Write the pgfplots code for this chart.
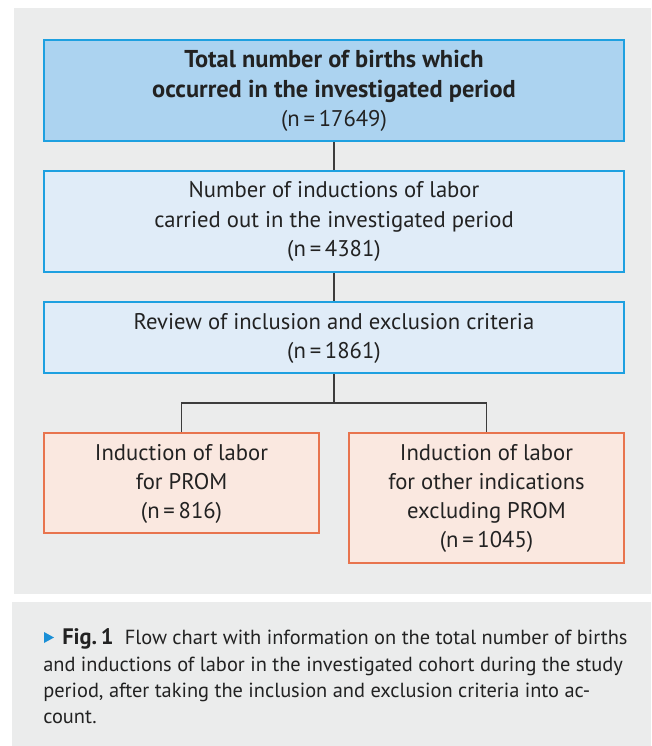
\documentclass[border=0pt]{standalone}
\usepackage{fontspec}
\setmainfont{PT Sans}
\usepackage{pgfplots}
\pgfplotsset{compat=1.18}
\definecolor{panel}{HTML}{EBECEC}
\definecolor{boxA}{HTML}{ACD3F0}
\definecolor{boxB}{HTML}{E0ECF8}
\definecolor{blueedge}{HTML}{1EA0E0}
\definecolor{boxC}{HTML}{FAE8E0}
\definecolor{orangeedge}{HTML}{E8744E}
\definecolor{conn}{HTML}{3C3C3C}
\definecolor{txt}{HTML}{222222}
\definecolor{arrowblue}{HTML}{1A8FD6}
\newcommand\boxfont{\fontsize{17pt}{20pt}\selectfont}
\newcommand\boldfont{\fontsize{18.3pt}{20pt}\selectfont\bfseries}
\newcommand\capfont{\fontsize{15.3pt}{18pt}\selectfont}
\begin{document}
\begin{tikzpicture}
\begin{axis}[
  scale only axis, width=488.25pt, height=559.5pt,
  xmin=0, xmax=651, ymin=0, ymax=746, y dir=reverse,
  hide axis, clip=false,
]
% background
\fill[white] (0,0) rectangle (651,746);
\fill[panel] (14,8) rectangle (651,594);
\fill[panel] (12,602) rectangle (651,746);
% connectors
\draw[conn, line width=0.8pt] (334,141) -- (334,171);
\draw[conn, line width=0.8pt] (334,272) -- (334,302);
\draw[conn, line width=0.8pt] (334,373) -- (334,403);
\draw[conn, line width=0.8pt] (181.5,433) -- (181.5,403) -- (486.5,403) -- (486.5,433);
% boxes
\draw[fill=boxA, draw=blueedge, line width=1.1pt] (44,40) rectangle (624,141);
\draw[fill=boxB, draw=blueedge, line width=1.1pt] (44,171) rectangle (624,272);
\draw[fill=boxB, draw=blueedge, line width=1.1pt] (44,302) rectangle (624,373);
\draw[fill=boxC, draw=orangeedge, line width=1.1pt] (44,433) rectangle (319,533);
\draw[fill=boxC, draw=orangeedge, line width=1.1pt] (349,433) rectangle (624,563);
% box texts
\begin{scope}[every node/.style={anchor=base, inner sep=0pt, text=txt, font=\boxfont}]
\node[font=\boldfont] at (334,67) {Total number of births which};
\node[font=\boldfont] at (334,97) {occurred in the investigated period};
\node at (334,126) {(n\,=\,17649)};
\node at (334,197) {Number of inductions of labor};
\node at (334,227) {carried out in the investigated period};
\node at (334,256) {(n\,=\,4381)};
\node at (334,329) {Review of inclusion and exclusion criteria};
\node at (334,358) {(n\,=\,1861)};
\node at (181.5,460) {Induction of labor};
\node at (181.5,489) {for PROM};
\node at (181.5,518) {(n\,=\,816)};
\node at (486.5,460) {Induction of labor};
\node at (486.5,489) {for other indications};
\node at (486.5,518) {excluding PROM};
\node at (486.5,547) {(n\,=\,1045)};
\end{scope}
% caption
\fill[arrowblue] (44,632) -- (54,637.5) -- (44,643) -- cycle;
\begin{scope}[every node/.style={anchor=base west, inner sep=0pt, text=txt, font=\capfont}]
\node at (62,644) {{\fontsize{16.8pt}{18pt}\selectfont\textbf{Fig.\,1}}\hspace{0.55em}Flow chart with information on the total number of births};
\node at (43,671) {and inductions of labor in the investigated cohort during the study};
\node at (43,697) {period, after taking the inclusion and exclusion criteria into ac-};
\node at (43,723) {count.};
\end{scope}
\end{axis}
\end{tikzpicture}
\end{document}
